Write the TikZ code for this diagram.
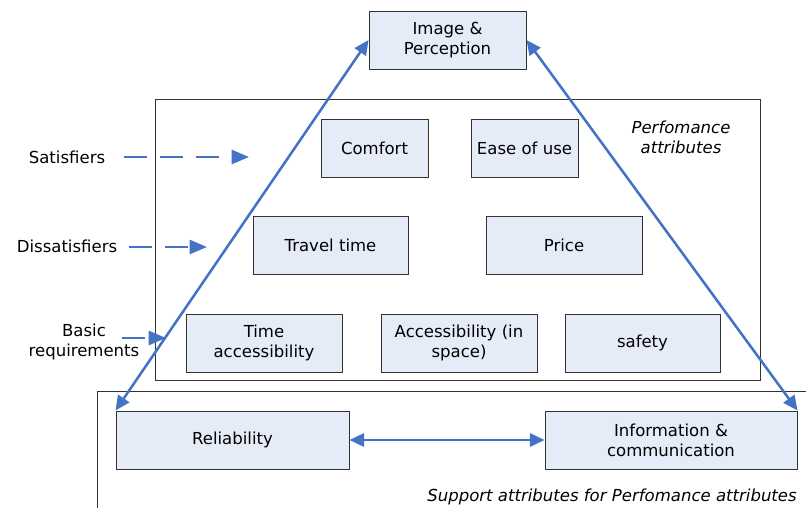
\documentclass[tikz,border=0pt]{standalone}
\usepackage{fontspec}
\setmainfont{DejaVu Sans}
\usetikzlibrary{arrows.meta}
\definecolor{boxfill}{HTML}{E6ECF7}
\definecolor{arr}{HTML}{4472C4}
\definecolor{edge}{HTML}{333333}
\begin{document}
\begin{tikzpicture}[x=0.75pt,y=-0.75pt,
  font=\fontsize{12.4pt}{15pt}\selectfont,
  attr/.style={draw=edge,line width=0.75pt,fill=boxfill,minimum height=43.5pt,inner sep=0pt,align=center},
  frame/.style={draw=black!80,line width=0.7pt},
  conn/.style={draw=arr,line width=1.9pt,{Triangle[length=11pt,width=10pt]}-{Triangle[length=11pt,width=10pt]}},
  dasharrow/.style={draw=arr,line width=2pt,dash pattern=on 17pt off 10pt,-{Triangle[length=13pt,width=10.5pt]}},
  lbl/.style={align=center,inner sep=0pt}]
\useasboundingbox (0,0) rectangle (806,508);
% frames
\draw[frame] (155,99) rectangle (760,380);
\draw[frame] (97,508) -- (97,391) -- (806,391);
% boxes
\node[attr,minimum width=117.75pt] (img) at (447.5,40) {Image \&\\Perception};
\node[attr,minimum width=80.25pt] (comfort) at (374.5,148) {Comfort};
\node[attr,minimum width=80.25pt] (ease) at (524.5,148) {Ease of use};
\node[attr,minimum width=116.25pt] (travel) at (330.5,245) {Travel time};
\node[attr,minimum width=117pt] (price) at (564,245) {Price};
\node[attr,minimum width=117pt] (timeacc) at (264,343) {Time\\accessibility};
\node[attr,minimum width=117pt] (accspace) at (459,343) {Accessibility (in\\space)};
\node[attr,minimum width=116.25pt] (safety) at (642.5,343) {safety};
\node[attr,minimum width=174.75pt] (rel) at (232.5,440) {Reliability};
\node[attr,minimum width=189pt] (info) at (671,440) {Information \&\\communication};
% texts
\node[lbl,font=\fontsize{12.4pt}{15pt}\selectfont\itshape] (perf) at (681,137) {Perfomance\\attributes};
\node[lbl,font=\fontsize{12.4pt}{15pt}\selectfont\itshape,anchor=east] (supp) at (797,497) {Support attributes for Perfomance attributes};
\node[lbl] (sat) at (67,157) {Satisfiers};
\node[lbl] (dis) at (67,246) {Dissatisfiers};
\node[lbl] (basic) at (84,342) {Basic\\requirements};
% dashed arrows
\coordinate (satS) at (124,157); \coordinate (satE) at (249,157);
\coordinate (disS) at (129,247); \coordinate (disE) at (207,247);
\coordinate (basS) at (122,338); \coordinate (basE) at (166,338);
\draw[dasharrow] (satS) -- (satE);
\draw[dasharrow] (disS) -- (disE);
\draw[dasharrow] (basS) -- (basE);
% connectors
\draw[conn] (rel.north west) -- (img.west);
\draw[conn] (img.east) -- (info.north east);
\draw[conn] (rel.east) -- (info.west);
\end{tikzpicture}
\end{document}
